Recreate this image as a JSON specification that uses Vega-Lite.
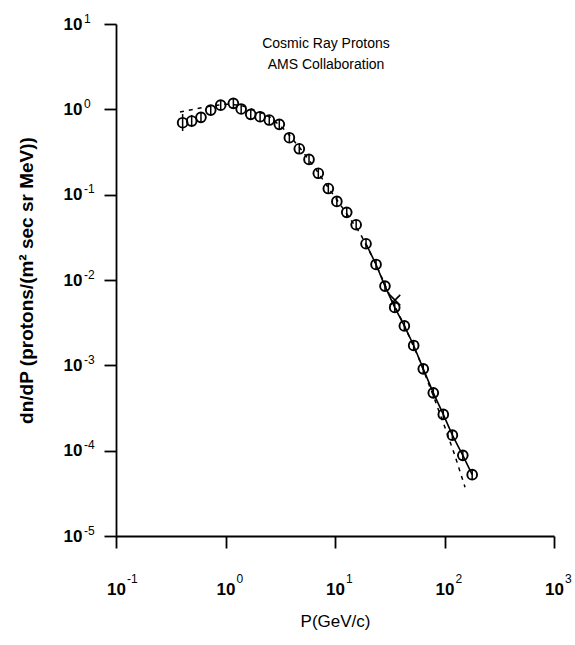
{
  "$schema": "https://vega.github.io/schema/vega-lite/v6.json",
  "width": 438,
  "height": 512,
  "autosize": {"type": "none"},
  "padding": {"left": 116, "top": 24, "right": 21, "bottom": 109},
  "background": "white",
  "config": {"view": {"stroke": null}, "font": "Liberation Sans"},
  "datasets": {
    "ams": [
      {"P": 0.406, "F": 0.697, "lo": 0.557, "hi": 0.88},
      {"P": 0.491, "F": 0.729, "lo": 0.62, "hi": 0.86},
      {"P": 0.597, "F": 0.806, "lo": 0.71, "hi": 0.92},
      {"P": 0.733, "F": 0.98, "lo": 0.86, "hi": 1.12},
      {"P": 0.904, "F": 1.12, "lo": 0.98, "hi": 1.28},
      {"P": 1.18, "F": 1.175, "lo": 1.03, "hi": 1.34},
      {"P": 1.39, "F": 1.01, "lo": 0.885, "hi": 1.15},
      {"P": 1.7, "F": 0.874, "lo": 0.766, "hi": 0.997},
      {"P": 2.07, "F": 0.819, "lo": 0.718, "hi": 0.934},
      {"P": 2.51, "F": 0.749, "lo": 0.657, "hi": 0.854},
      {"P": 3.1, "F": 0.667, "lo": 0.585, "hi": 0.76},
      {"P": 3.83, "F": 0.465, "lo": 0.408, "hi": 0.53},
      {"P": 4.72, "F": 0.345, "lo": 0.302, "hi": 0.393},
      {"P": 5.79, "F": 0.259, "lo": 0.227, "hi": 0.295},
      {"P": 7.04, "F": 0.178, "lo": 0.156, "hi": 0.203},
      {"P": 8.69, "F": 0.118, "lo": 0.104, "hi": 0.135},
      {"P": 10.4, "F": 0.0834, "lo": 0.0731, "hi": 0.0951},
      {"P": 12.8, "F": 0.0621, "lo": 0.0545, "hi": 0.0708},
      {"P": 15.6, "F": 0.0444, "lo": 0.0389, "hi": 0.0506},
      {"P": 19.2, "F": 0.0266, "lo": 0.0233, "hi": 0.0303},
      {"P": 23.7, "F": 0.0152, "lo": 0.0133, "hi": 0.0173},
      {"P": 28.6, "F": 0.00848, "lo": 0.00744, "hi": 0.00967},
      {"P": 35.1, "F": 0.00477, "lo": 0.00418, "hi": 0.00544},
      {"P": 43.0, "F": 0.0029, "lo": 0.00254, "hi": 0.00331},
      {"P": 52.3, "F": 0.00171, "lo": 0.0015, "hi": 0.00195},
      {"P": 64.0, "F": 0.00091, "lo": 0.000798, "hi": 0.00104},
      {"P": 79.0, "F": 0.000476, "lo": 0.000418, "hi": 0.000543},
      {"P": 97.5, "F": 0.000266, "lo": 0.000233, "hi": 0.000303},
      {"P": 118, "F": 0.000152, "lo": 0.000133, "hi": 0.000173},
      {"P": 147, "F": 0.0000881, "lo": 0.0000773, "hi": 0.0001},
      {"P": 179, "F": 0.0000523, "lo": 0.0000459, "hi": 0.0000596}
    ],
    "model": [
      {"P": 0.384, "F": 0.929},
      {"P": 0.526, "F": 1.01},
      {"P": 0.721, "F": 1.09},
      {"P": 0.989, "F": 1.15},
      {"P": 1.36, "F": 1.12},
      {"P": 1.86, "F": 0.98},
      {"P": 2.55, "F": 0.812},
      {"P": 3.49, "F": 0.572},
      {"P": 4.79, "F": 0.352},
      {"P": 6.56, "F": 0.205},
      {"P": 9.0, "F": 0.113},
      {"P": 12.3, "F": 0.0643},
      {"P": 16.9, "F": 0.0355},
      {"P": 23.2, "F": 0.0162},
      {"P": 31.8, "F": 0.00648},
      {"P": 43.6, "F": 0.00281},
      {"P": 59.7, "F": 0.00112},
      {"P": 81.8, "F": 0.000391},
      {"P": 103, "F": 0.000174},
      {"P": 125, "F": 0.0000863},
      {"P": 154, "F": 0.0000373}
    ],
    "marker": [
      {"P": 35.3, "F": 0.00581}
    ],
    "xexp": [
      {"P": 0.1, "e": "-1"},
      {"P": 1, "e": "0"},
      {"P": 10, "e": "1"},
      {"P": 100, "e": "2"},
      {"P": 1000, "e": "3"}
    ],
    "yexp": [
      {"F": 10, "e": "1"},
      {"F": 1, "e": "0"},
      {"F": 0.1, "e": "-1"},
      {"F": 0.01, "e": "-2"},
      {"F": 0.001, "e": "-3"},
      {"F": 0.0001, "e": "-4"},
      {"F": 0.00001, "e": "-5"}
    ]
  },
  "layer": [
    {
      "data": {"name": "model"},
      "mark": {"type": "line", "color": "black", "strokeWidth": 1.5, "strokeDash": [4, 5]},
      "encoding": {
        "x": {
          "field": "P", "type": "quantitative",
          "scale": {"type": "log", "domain": [0.1, 1000]},
          "axis": {
            "values": [0.1, 1, 10, 100, 1000],
            "labelExpr": "'10'",
            "title": "P(GeV/c)",
            "grid": false,
            "domainColor": "black", "domainWidth": 1.8,
            "tickColor": "black", "tickWidth": 1.8, "tickSize": 12,
            "labelFont": "Liberation Sans", "labelFontSize": 17, "labelFontWeight": "bold",
            "labelColor": "black", "labelPadding": 46, "labelBaseline": "alphabetic",
            "labelFlush": false, "labelOverlap": false,
            "titleFont": "Liberation Sans", "titleFontSize": 17, "titleFontWeight": "normal",
            "titleColor": "black", "titleX": 219, "titleY": 90,
            "titleBaseline": "alphabetic", "titleAlign": "center"
          }
        },
        "y": {
          "field": "F", "type": "quantitative",
          "scale": {"type": "log", "domain": [0.00001, 10]},
          "axis": {
            "values": [0.00001, 0.0001, 0.001, 0.01, 0.1, 1, 10],
            "labelExpr": "'10'",
            "title": "dn/dP (protons/(m² sec sr MeV))",
            "grid": false,
            "domainColor": "black", "domainWidth": 1.8,
            "tickColor": "black", "tickWidth": 1.8, "tickSize": 12,
            "labelFont": "Liberation Sans", "labelFontSize": 17, "labelFontWeight": "bold",
            "labelColor": "black", "labelPadding": 22, "labelBaseline": "middle",
            "labelFlush": false, "labelOverlap": false,
            "titleFont": "Liberation Sans", "titleFontSize": 19, "titleFontWeight": "bold",
            "titleColor": "black", "titleX": -80, "titleY": 256, "titleAlign": "center"
          }
        }
      }
    },
    {
      "data": {"name": "ams"},
      "transform": [{"filter": "datum.P >= 19"}],
      "mark": {"type": "line", "color": "black", "strokeWidth": 1.6},
      "encoding": {
        "x": {"field": "P", "type": "quantitative"},
        "y": {"field": "F", "type": "quantitative"}
      }
    },
    {
      "data": {"name": "ams"},
      "mark": {"type": "rule", "color": "black", "strokeWidth": 1.5},
      "encoding": {
        "x": {"field": "P", "type": "quantitative"},
        "y": {"field": "lo", "type": "quantitative"},
        "y2": {"field": "hi"}
      }
    },
    {
      "data": {"name": "ams"},
      "mark": {"type": "point", "shape": "circle", "filled": false, "color": "black", "strokeWidth": 1.9, "size": 95, "opacity": 1},
      "encoding": {
        "x": {"field": "P", "type": "quantitative"},
        "y": {"field": "F", "type": "quantitative"}
      }
    },
    {
      "data": {"name": "marker"},
      "mark": {"type": "point", "shape": "M-1,-1L1,1M1,-1L-1,1", "filled": false, "color": "black", "strokeWidth": 1.6, "size": 110, "opacity": 1},
      "encoding": {
        "x": {"field": "P", "type": "quantitative"},
        "y": {"field": "F", "type": "quantitative"}
      }
    },
    {
      "data": {"name": "xexp"},
      "mark": {"type": "text", "font": "Liberation Sans", "fontSize": 12, "color": "black", "align": "left", "baseline": "alphabetic", "dx": 11, "dy": 47},
      "encoding": {
        "x": {"field": "P", "type": "quantitative"},
        "y": {"datum": 0.00001, "type": "quantitative"},
        "text": {"field": "e"}
      }
    },
    {
      "data": {"name": "yexp"},
      "mark": {"type": "text", "font": "Liberation Sans", "fontSize": 12, "color": "black", "align": "left", "baseline": "alphabetic", "dx": -32, "dy": -1.5},
      "encoding": {
        "x": {"datum": 0.1, "type": "quantitative"},
        "y": {"field": "F", "type": "quantitative"},
        "text": {"field": "e"}
      }
    },
    {
      "data": {"values": [{}]},
      "mark": {"type": "text", "text": ["Cosmic Ray Protons", "AMS Collaboration"], "font": "Liberation Sans", "fontSize": 14, "color": "black", "align": "center", "baseline": "alphabetic", "lineHeight": 21},
      "encoding": {
        "x": {"datum": 8.28, "type": "quantitative"},
        "y": {"datum": 5.23, "type": "quantitative"}
      }
    }
  ]
}
